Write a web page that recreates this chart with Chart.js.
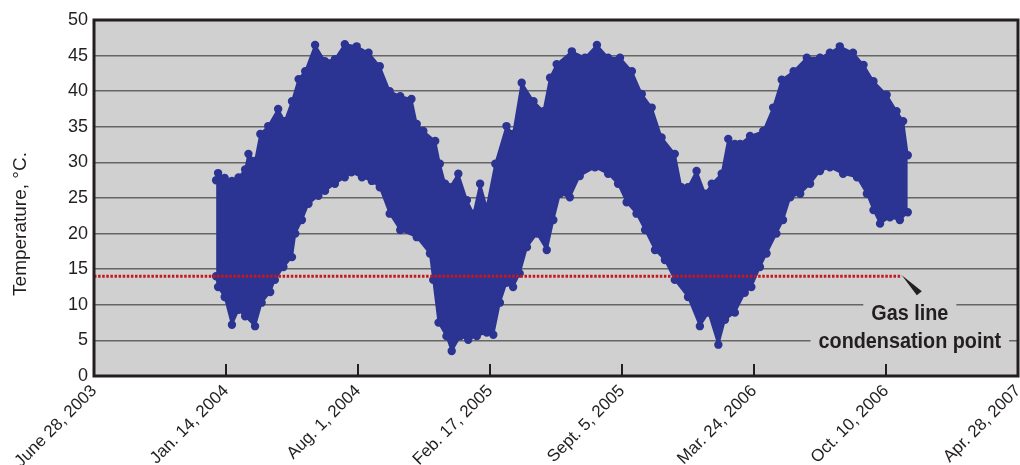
<!DOCTYPE html>
<html>
<head>
<meta charset="utf-8">
<title>Temperature</title>
<script src="https://cdn.jsdelivr.net/npm/chart.js@4.4.1/dist/chart.umd.min.js"></script>
<style>
	html, body { margin: 0; padding: 0; background: #ffffff; }
	#wrap { width: 1020px; height: 465px; }
</style>
</head>
<body>
<div id="wrap"><canvas id="tempChart"></canvas></div>
<script>
// x axis runs in days counted from June 28, 2003, one tick every 200 days
const xTickLabels = ['June 28, 2003', 'Jan. 14, 2004', 'Aug. 1, 2004', 'Feb. 17, 2005',
	'Sept. 5, 2005', 'Mar. 24, 2006', 'Oct. 10, 2006', 'Apr. 28, 2007'];
const xTickStep = 200;
const yMax = 50;
const yTickStep = 5;

// highest readings of the cloud, [day, °C]
const upperEdge = [
	[185, 27.5], [188, 28.5], [198, 27.8], [209, 27.4], [219, 27.9], [229, 29], [234, 31.2],
	[244, 30.2], [252, 34], [264, 35.1], [279, 37.5], [289, 35.8], [300, 38.6], [310, 41.7],
	[320, 42.8], [335, 46.5], [350, 44.2], [365, 44.5], [380, 46.6], [398, 46.3], [416, 45.4],
	[433, 43.5], [448, 40], [464, 39.3], [481, 38.9], [489, 35.4], [499, 34.4], [517, 33],
	[524, 29.8], [532, 27], [539, 26.5], [552, 28.4], [565, 24.7], [575, 22.8], [585, 27],
	[595, 23.7], [608, 29.8], [625, 35.1], [635, 34], [648, 41.2], [666, 38.6], [681, 37.2],
	[691, 41.9], [701, 43.8], [724, 45.6], [744, 44.7], [762, 46.5], [779, 44.7], [797, 44.7],
	[815, 42.8], [830, 39.6], [845, 37.7], [860, 33.5], [880, 31.2], [890, 26.5], [900, 26.5],
	[913, 28.8], [926, 25.6], [936, 27], [951, 28.4], [961, 33.3], [971, 32.6], [979, 32.6],
	[994, 33.7], [1014, 34.4], [1029, 37.7], [1042, 41.6], [1060, 42.8], [1080, 44.7],
	[1100, 44.7], [1115, 45.4], [1130, 46.3], [1150, 45.4], [1166, 43.7], [1181, 41.4],
	[1201, 39.5], [1216, 37.2], [1226, 35.8], [1233, 31]
];

// lowest readings of the cloud, [day, °C]
const lowerEdge = [
	[185, 14], [188, 12.5], [198, 11.1], [209, 7.2], [219, 9.3], [229, 8.4], [244, 7],
	[254, 10.3], [267, 11.8], [274, 13.5], [287, 15.3], [300, 16.7], [305, 20], [315, 21.9],
	[325, 24.2], [340, 25.3], [350, 26], [365, 27], [380, 27.9], [390, 28.6], [406, 27.9],
	[421, 27.4], [433, 26.5], [448, 22.8], [464, 20.5], [489, 19.5], [509, 17.2], [514, 13.5],
	[522, 7.5], [534, 5.6], [542, 3.5], [555, 5.6], [567, 5.1], [580, 5.6], [595, 6.1],
	[605, 5.8], [615, 10.3], [625, 13.1], [635, 12.5], [645, 14.4], [656, 18.1], [671, 20],
	[686, 17.7], [696, 21.9], [706, 25.6], [721, 25.1], [736, 28.1], [759, 29.3], [779, 28.4],
	[794, 27], [807, 24.4], [822, 22.8], [835, 20.5], [850, 17.7], [865, 16.3], [880, 13.5],
	[900, 11.1], [918, 7], [931, 8.9], [946, 4.4], [956, 7.9], [971, 8.9], [986, 11.7],
	[996, 12.5], [1009, 15.3], [1019, 17.2], [1034, 20], [1044, 21.9], [1055, 25.1],
	[1070, 25.6], [1085, 27], [1100, 28.8], [1115, 29.3], [1135, 28.4], [1156, 27.9],
	[1171, 25.6], [1181, 23.3], [1191, 21.4], [1206, 22.3], [1221, 21.9], [1233, 23]
];

// gas line condensation point
const gasLineTemp = 14;
const gasLineDays = [0, 1224];
const gasLineText = ['Gas line', 'condensation point'];

const ink = '#231f20';
const cloudBlue = '#2b3492';
const plotGray = '#d0d0d0';

function toPoints(edge) {
	return edge.map(p => ({ x: p[0], y: p[1] }));
}

// gray panel behind the plot, then frame, ticks and labels on top
const framePlugin = {
	id: 'framePlugin',
	beforeDraw(chart) {
		const { ctx, chartArea: a } = chart;
		ctx.save();
		ctx.fillStyle = plotGray;
		ctx.fillRect(a.left, a.top, a.right - a.left, a.bottom - a.top);
		ctx.restore();
	},
	afterDatasetsDraw(chart) {
		const { ctx, chartArea: a } = chart;
		const xs = chart.scales.x;
		const ys = chart.scales.y;
		ctx.save();

		// short inward tick marks on the date axis
		ctx.strokeStyle = ink;
		ctx.lineWidth = 2;
		xs.ticks.forEach((t, i) => {
			if (i === 0 || i === xs.ticks.length - 1) return;
			const px = Math.round(xs.getPixelForValue(t.value));
			ctx.beginPath();
			ctx.moveTo(px, a.bottom);
			ctx.lineTo(px, a.bottom - 12);
			ctx.stroke();
		});

		// leader from the end of the dotted line
		const ax = xs.getPixelForValue(gasLineDays[1]);
		const ay = ys.getPixelForValue(gasLineTemp);
		ctx.fillStyle = ink;
		ctx.beginPath();
		ctx.moveTo(ax, ay - 1);
		ctx.lineTo(ax + 20, ay + 15);
		ctx.lineTo(ax + 15, ay + 19);
		ctx.closePath();
		ctx.fill();

		// label in a narrow bold face, gray boxes hide the grid lines behind it
		const cx = ax + 8;
		const squeeze = 0.9;
		ctx.font = 'bold 22px "Liberation Sans", Arial, sans-serif';
		ctx.textAlign = 'center';
		ctx.textBaseline = 'alphabetic';
		const baselines = [ys.getPixelForValue(7.9), ys.getPixelForValue(4)];
		gasLineText.forEach((line, i) => {
			const w = ctx.measureText(line).width * squeeze;
			ctx.fillStyle = plotGray;
			ctx.fillRect(cx - w / 2 - 8, baselines[i] - 19, w + 16, 25);
			ctx.save();
			ctx.translate(cx, baselines[i]);
			ctx.scale(squeeze, 1);
			ctx.fillStyle = ink;
			ctx.fillText(line, 0, 0);
			ctx.restore();
		});

		// plot frame
		ctx.strokeStyle = ink;
		ctx.lineWidth = 3;
		ctx.strokeRect(a.left, a.top, a.right - a.left, a.bottom - a.top);

		// y axis title
		ctx.translate(21, 224);
		ctx.rotate(-Math.PI / 2);
		ctx.font = '19px "Liberation Sans", Arial, sans-serif';
		ctx.textAlign = 'center';
		ctx.textBaseline = 'middle';
		ctx.fillStyle = ink;
		ctx.fillText('Temperature, °C.', 0, 0);
		ctx.restore();
	}
};

function drawChart() {
	const canvas = document.getElementById('tempChart');

	new Chart(canvas, {
		type: 'line',
		data: {
			datasets: [
				{
					data: gasLineDays.map(d => ({ x: d, y: gasLineTemp })),
					borderColor: '#c8161d',
					borderWidth: 3,
					borderDash: [2.5, 1.6],
					pointRadius: 0,
					fill: false,
					order: 0
				},
				{
					data: toPoints(upperEdge),
					borderColor: cloudBlue,
					backgroundColor: cloudBlue,
					borderWidth: 2,
					pointRadius: 3.2,
					tension: 0,
					fill: false,
					order: 2
				},
				{
					data: toPoints(lowerEdge),
					borderColor: cloudBlue,
					backgroundColor: cloudBlue,
					borderWidth: 2,
					pointRadius: 3.2,
					tension: 0,
					fill: '-1',
					order: 1
				}
			]
		},
		options: {
			responsive: false,
			animation: false,
			devicePixelRatio: 1,
			layout: {
				autoPadding: false,
				padding: { top: 20, right: 2, left: 0, bottom: 0 }
			},
			plugins: {
				legend: { display: false },
				tooltip: { enabled: false }
			},
			scales: {
				x: {
					type: 'linear',
					min: 0,
					max: xTickStep * (xTickLabels.length - 1),
					afterBuildTicks(scale) {
						scale.ticks = xTickLabels.map((l, i) => ({ value: i * xTickStep }));
					},
					ticks: {
						autoSkip: false,
						minRotation: 45,
						maxRotation: 45,
						padding: -3,
						color: ink,
						font: { family: '"Liberation Sans", Arial, sans-serif', size: 17 },
						callback: (v) => xTickLabels[Math.round(v / xTickStep)]
					},
					grid: { display: false },
					border: { display: false },
					afterFit(scale) {
						// the rotated end labels need no side margin
						scale.height = 89;
						scale.paddingLeft = 0;
						scale.paddingRight = 0;
					}
				},
				y: {
					min: 0,
					max: yMax,
					ticks: {
						stepSize: yTickStep,
						padding: 6,
						color: ink,
						font: { family: '"Liberation Sans", Arial, sans-serif', size: 18 }
					},
					grid: { color: '#656565', lineWidth: 1.5, drawTicks: false },
					border: { display: false },
					afterFit(scale) {
						scale.width = 94;
					}
				}
			}
		},
		plugins: [framePlugin]
	});
}

document.getElementById('tempChart').width = 1020;
document.getElementById('tempChart').height = 465;
drawChart();
</script>
</body>
</html>
